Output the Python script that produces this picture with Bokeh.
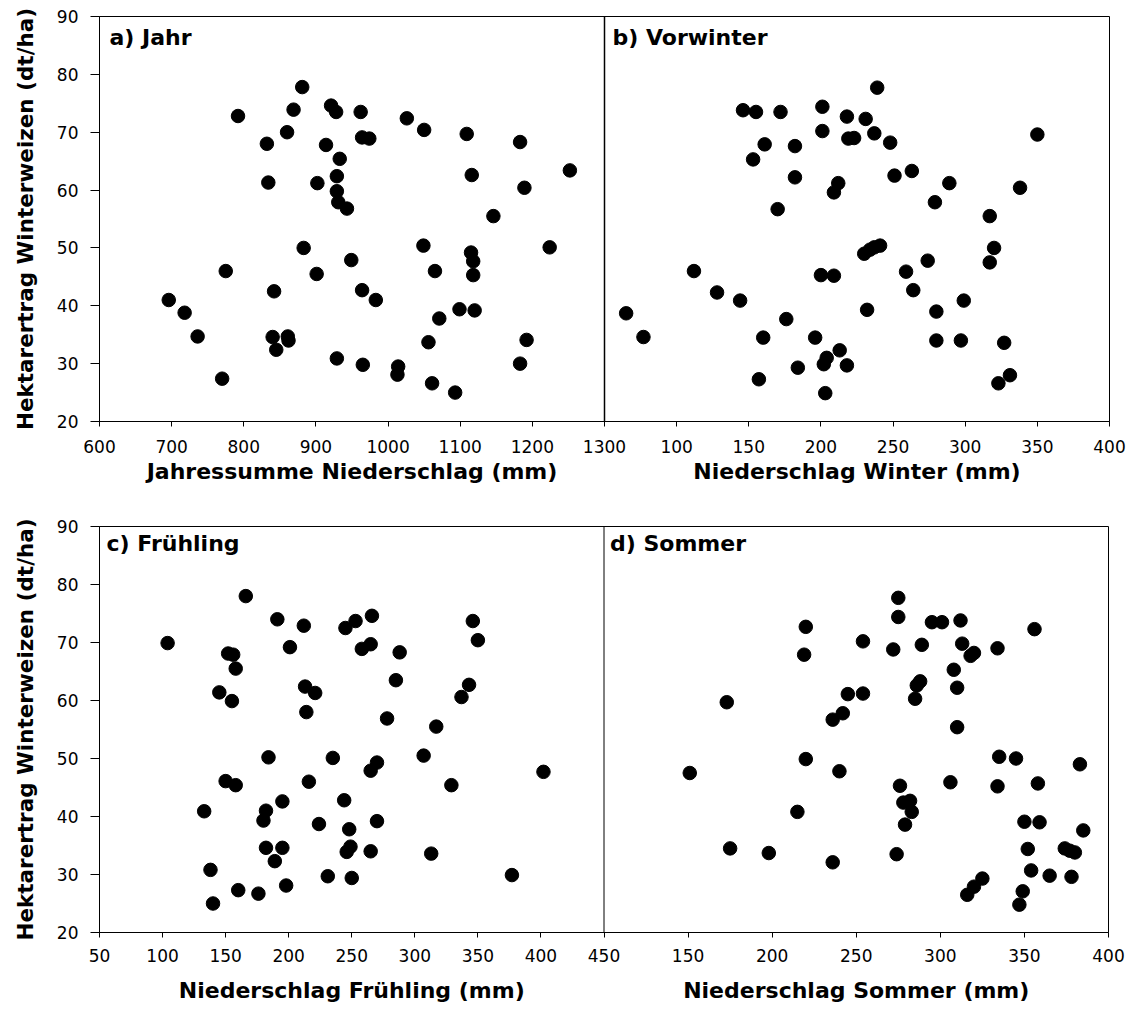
from bokeh.plotting import figure
from bokeh.models import Range1d, FixedTicker, Span, Label
from bokeh.layouts import column
from bokeh.embed import file_html
from bokeh.resources import INLINE

FONT = "DejaVu Sans"

# Hektarertrag axis (shared by all panels)
yield_ticks = [20, 30, 40, 50, 60, 70, 80, 90]

# a) Jahr
jahr_lim = (600, 1300)
jahr_ticks = [600, 700, 800, 900, 1000, 1100, 1200, 1300]
jahr_mm = [881, 792, 869, 921, 928, 962, 1026, 1050, 860, 832,
           914, 964, 974, 1109, 1183, 933, 929, 834, 902, 929,
           931, 943, 1116, 1252, 1189, 1146, 883, 1049, 1224, 1115,
           1118, 949, 775, 901, 1065, 1118, 842, 964, 696, 983,
           718, 1099, 1120, 1071, 736, 840, 861, 862, 845, 1056,
           1192, 929, 965, 1014, 1013, 1183, 770, 1061, 1093]
jahr_dt = [77.8, 72.8, 73.9, 74.6, 73.5, 73.5, 72.4, 70.4, 70.0, 68.0,
           67.8, 69.1, 68.9, 69.7, 68.3, 65.4, 62.4, 61.3, 61.2, 59.8,
           57.9, 56.8, 62.6, 63.4, 60.4, 55.5, 50.0, 50.4, 50.1, 49.2,
           47.7, 47.9, 46.0, 45.5, 46.0, 45.3, 42.5, 42.7, 41.0, 41.0,
           38.8, 39.4, 39.2, 37.8, 34.7, 34.6, 34.7, 34.0, 32.4, 33.7,
           34.1, 30.9, 29.8, 29.5, 28.1, 30.0, 27.4, 26.6, 25.0]

# b) Vorwinter
winter_lim = (50, 400)
winter_ticks = [100, 150, 200, 250, 300, 350, 400]
winter_mm = [239, 146, 155, 172, 201, 218, 231, 201, 237, 350,
             219, 223, 248, 161, 182, 153, 182, 251, 263, 212,
             209, 289, 338, 279, 170, 317, 241, 237, 234, 230,
             320, 274, 317, 112, 259, 200, 209, 128, 264, 144,
             299, 65, 232, 280, 176, 77, 160, 196, 280, 297,
             327, 213, 204, 202, 184, 218, 157, 331, 323, 203]
winter_dt = [77.7, 73.8, 73.5, 73.5, 74.4, 72.7, 72.3, 70.2, 69.8, 69.6,
             68.9, 69.0, 68.2, 67.9, 67.6, 65.3, 62.2, 62.5, 63.3, 61.2,
             59.6, 61.2, 60.4, 57.9, 56.7, 55.5, 50.4, 50.1, 49.7, 49.0,
             50.0, 47.8, 47.5, 46.0, 45.9, 45.3, 45.2, 42.3, 42.7, 40.9,
             40.9, 38.7, 39.3, 39.0, 37.7, 34.6, 34.5, 34.5, 34.0, 34.0,
             33.6, 32.3, 31.0, 29.9, 29.3, 29.7, 27.3, 28.0, 26.6, 24.9]

# c) Frühling
fruehling_lim = (50, 450)
fruehling_ticks = [50, 100, 150, 200, 250, 300, 350, 400, 450]
fruehling_mm = [166, 104, 191, 212, 245, 253, 266, 346, 350, 152,
                156, 201, 258, 265, 288, 158, 145, 155, 213, 221,
                214, 285, 343, 337, 278, 317, 184, 235, 307, 270,
                265, 402, 150, 158, 216, 329, 195, 244, 133, 182,
                180, 224, 270, 248, 182, 195, 249, 246, 265, 313,
                189, 138, 231, 250, 377, 160, 176, 198, 140]
fruehling_dt = [78.0, 69.9, 74.0, 72.9, 72.5, 73.7, 74.6, 73.7, 70.4, 68.1,
                67.9, 69.2, 68.9, 69.7, 68.3, 65.5, 61.4, 59.9, 62.4, 61.3,
                58.0, 63.5, 62.7, 60.6, 56.9, 55.5, 50.2, 50.1, 50.5, 49.3,
                47.9, 47.7, 46.1, 45.4, 46.0, 45.4, 42.6, 42.8, 40.9, 41.0,
                39.3, 38.7, 39.2, 37.8, 34.6, 34.6, 34.8, 33.9, 34.0, 33.6,
                32.3, 30.8, 29.7, 29.4, 29.9, 27.3, 26.7, 28.1, 25.0]

# d) Sommer
sommer_lim = (100, 400)
sommer_ticks = [150, 200, 250, 300, 350, 400]
sommer_mm = [275, 275, 295, 301, 312, 220, 356, 254, 272, 289,
             313, 334, 318, 320, 219, 308, 288, 286, 310, 245,
             254, 285, 173, 242, 236, 310, 220, 335, 345, 383,
             151, 240, 276, 306, 334, 358, 278, 282, 283, 215,
             279, 350, 359, 385, 175, 198, 274, 236, 352, 374,
             377, 380, 354, 365, 378, 325, 320, 316, 349, 347]
sommer_dt = [77.7, 74.4, 73.5, 73.5, 73.8, 72.7, 72.3, 70.2, 68.8, 69.6,
             69.8, 69.0, 67.7, 68.2, 67.9, 65.3, 63.3, 62.6, 62.2, 61.1,
             61.2, 60.3, 59.7, 57.8, 56.7, 55.4, 49.9, 50.3, 50.0, 49.0,
             47.5, 47.8, 45.3, 45.9, 45.2, 45.7, 42.4, 42.7, 40.8, 40.8,
             38.6, 39.1, 39.0, 37.6, 34.5, 33.7, 33.5, 32.1, 34.4, 34.5,
             34.1, 33.8, 30.7, 29.8, 29.6, 29.3, 27.9, 26.5, 27.1, 24.8]


def shared_ranges(left_lim, right_lim):
    """Each row is one frame: the left panel's scale is continued over the
    right half and the right panel's scale back over the left half."""
    lw = left_lim[1] - left_lim[0]
    rw = right_lim[1] - right_lim[0]
    left = Range1d(left_lim[0], left_lim[1] + lw)
    right = Range1d(right_lim[0] - rw, right_lim[1])
    return left, right


def to_range(v, src, dst):
    return dst.start + (v - src.start) * (dst.end - dst.start) / (src.end - src.start)


def style(p, label_standoff):
    p.grid.visible = False
    p.background_fill_color = "white"
    p.border_fill_color = "white"
    p.outline_line_color = "black"
    p.outline_line_width = 1
    p.outline_line_alpha = 1
    for ax in (p.xaxis[0], p.yaxis[0]):
        ax.axis_line_color = "black"
        ax.major_tick_line_color = "black"
        ax.minor_tick_line_color = None
        ax.major_tick_in = 0
        ax.major_label_text_font = FONT
        ax.major_label_text_font_size = "17px"
        ax.major_label_text_color = "black"
    p.xaxis.major_tick_out = 5
    p.xaxis.major_label_standoff = label_standoff
    p.yaxis.major_tick_out = 9
    p.yaxis.major_label_standoff = 12
    p.yaxis.ticker = FixedTicker(ticks=yield_ticks)
    p.yaxis.axis_label = "Hektarertrag Winterweizen (dt/ha)"
    p.yaxis.axis_label_text_font = FONT
    p.yaxis.axis_label_text_font_size = "21.5px"
    p.yaxis.axis_label_text_font_style = "bold"
    p.yaxis.axis_label_text_color = "black"
    p.yaxis.axis_label_standoff = 16


def text(p, x, y, s, range_name="default", x_off=0, y_off=0, align="left"):
    p.add_layout(Label(x=x, y=y, text=s, x_range_name=range_name,
                       x_offset=x_off, y_offset=y_off,
                       text_font=FONT, text_font_size="22px", text_font_style="bold",
                       text_color="black", text_align=align, text_baseline="middle"))


def title_strip(x_rng, extra_name, extra_rng, border_left, frame_w, height):
    """Band under a row that carries the two x-axis titles."""
    s = figure(frame_width=frame_w, frame_height=height,
               min_border_left=border_left, min_border_right=W - border_left - frame_w,
               min_border_top=0, min_border_bottom=0,
               x_range=x_rng, y_range=Range1d(0, 1),
               x_axis_location=None, y_axis_location=None,
               output_backend="svg", toolbar_location=None)
    s.extra_x_ranges = {extra_name: extra_rng}
    s.grid.visible = False
    s.outline_line_color = None
    s.background_fill_color = "white"
    s.border_fill_color = "white"
    return s


W = 1133
MARK = 13.5

# ---- top row: a) Jahr | b) Vorwinter ----
a_rng, b_rng = shared_ranges(jahr_lim, winter_lim)
top = figure(frame_width=1010, frame_height=405,
             min_border_left=96, min_border_right=W - 96 - 1010,
             min_border_top=16, min_border_bottom=38,
             x_range=a_rng, y_range=Range1d(20, 90),
             output_backend="svg", toolbar_location=None)
top.extra_x_ranges = {"winter": b_rng}
style(top, 13)
top.scatter(jahr_mm, jahr_dt, size=MARK, color="black")
top.scatter(winter_mm, winter_dt, size=MARK, color="black", x_range_name="winter")

top_ticks = [float(t) for t in jahr_ticks]
top_labels = {float(t): str(t) for t in jahr_ticks}
for t in winter_ticks:
    pos = to_range(t, b_rng, a_rng)
    top_ticks.append(pos)
    top_labels[pos] = str(t)
top.xaxis.ticker = FixedTicker(ticks=top_ticks)
top.xaxis.major_label_overrides = top_labels
top.add_layout(Span(location=jahr_lim[1], dimension="height", line_color="black", line_width=1.5))

text(top, jahr_lim[0], 90, "a) Jahr", x_off=10, y_off=-21)
text(top, winter_lim[0], 90, "b) Vorwinter", "winter", x_off=8, y_off=-21)

top_titles = title_strip(a_rng, "winter", b_rng, 96, 1010, 41)
text(top_titles, sum(jahr_lim) / 2, 0.7, "Jahressumme Niederschlag (mm)", align="center")
text(top_titles, sum(winter_lim) / 2, 0.7, "Niederschlag Winter (mm)", "winter", align="center")

# ---- bottom row: c) Frühling | d) Sommer ----
c_rng, d_rng = shared_ranges(fruehling_lim, sommer_lim)
bottom = figure(frame_width=1009, frame_height=406,
                min_border_left=99, min_border_right=W - 99 - 1009,
                min_border_top=26, min_border_bottom=37,
                x_range=d_rng, y_range=Range1d(20, 90),
                output_backend="svg", toolbar_location=None)
bottom.extra_x_ranges = {"fruehling": c_rng}
style(bottom, 11)
bottom.scatter(fruehling_mm, fruehling_dt, size=MARK, color="black", x_range_name="fruehling")
bottom.scatter(sommer_mm, sommer_dt, size=MARK, color="black")

bot_ticks = []
bot_labels = {}
for t in fruehling_ticks:
    pos = to_range(t, c_rng, d_rng)
    bot_ticks.append(pos)
    bot_labels[pos] = str(t)
for t in sommer_ticks:
    bot_ticks.append(float(t))
    bot_labels[float(t)] = str(t)
bottom.xaxis.ticker = FixedTicker(ticks=bot_ticks)
bottom.xaxis.major_label_overrides = bot_labels
bottom.add_layout(Span(location=sommer_lim[0], dimension="height", line_color="black", line_width=1))

text(bottom, fruehling_lim[0], 90, "c) Frühling", "fruehling", x_off=7, y_off=-17)
text(bottom, sommer_lim[0], 90, "d) Sommer", x_off=6, y_off=-17)

bottom_titles = title_strip(d_rng, "fruehling", c_rng, 99, 1009, 41)
text(bottom_titles, sum(fruehling_lim) / 2, 0.5, "Niederschlag Frühling (mm)", "fruehling", align="center")
text(bottom_titles, sum(sommer_lim) / 2, 0.5, "Niederschlag Sommer (mm)", align="center")

page = column(top, top_titles, bottom, bottom_titles, spacing=0)
open("out.html", "w").write(file_html(page, INLINE))
